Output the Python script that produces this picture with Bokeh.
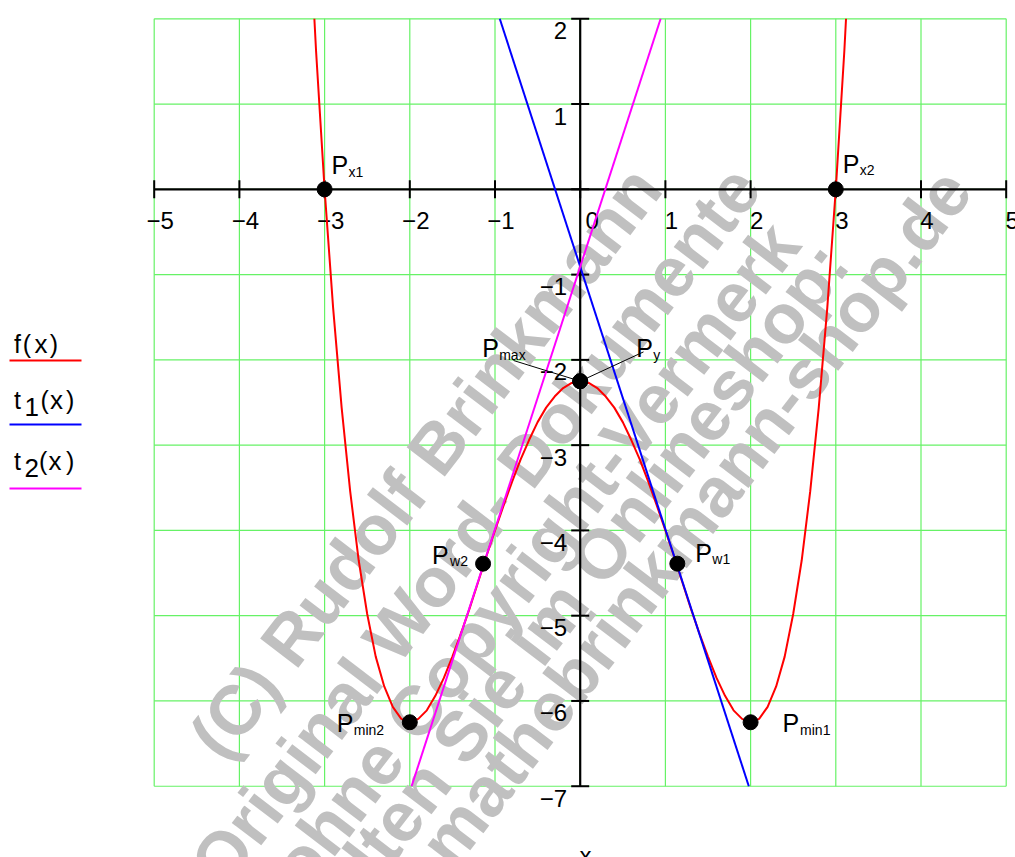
import math
from bokeh.plotting import figure
from bokeh.models import Range1d
from bokeh.core.properties import value
from bokeh.embed import file_html
from bokeh.resources import INLINE

# ---------------- data ----------------
f_x = [-3.12, -3.1, -3.0, -2.9, -2.8, -2.7, -2.6, -2.5, -2.4, -2.3, -2.2, -2.1, -2.0,
       -1.9, -1.8, -1.7, -1.6, -1.5, -1.4, -1.3, -1.2, -1.1, -1.0, -0.9, -0.8, -0.7,
       -0.6, -0.5, -0.4, -0.3, -0.2, -0.1, 0.0, 0.1, 0.2, 0.3, 0.4, 0.5, 0.6, 0.7, 0.8,
       0.9, 1.0, 1.1, 1.2, 1.3, 1.4, 1.5, 1.6, 1.7, 1.8, 1.9, 2.0, 2.1, 2.2, 2.3, 2.4,
       2.5, 2.6, 2.7, 2.8, 2.9, 3.0, 3.1, 3.12]
f_y = [2.00, 1.62, 0.00, -1.39, -2.56, -3.54, -4.35, -4.98, -5.48, -5.83, -6.07, -6.21, -6.25,
       -6.21, -6.11, -5.94, -5.73, -5.48, -5.21, -4.92, -4.61, -4.30, -4.00, -3.71, -3.43, -3.17,
       -2.94, -2.73, -2.56, -2.43, -2.33, -2.27, -2.25, -2.27, -2.33, -2.43, -2.56, -2.73, -2.94,
       -3.17, -3.43, -3.71, -4.00, -4.30, -4.61, -4.92, -5.21, -5.48, -5.73, -5.94, -6.11, -6.21,
       -6.25, -6.21, -6.07, -5.83, -5.48, -4.98, -4.35, -3.54, -2.56, -1.39, 0.00, 1.62, 2.00]

t1_x = [-0.944, 1.979]
t1_y = [2.0, -7.0]
t2_x = [-1.979, 0.944]
t2_y = [-7.0, 2.0]

pt_subs = ["x1", "x2", "max", "y", "w1", "w2", "min1", "min2"]
pt_x = [-3.0, 3.0, 0.0, 0.0, 1.14, -1.14, 2.0, -2.0]
pt_y = [0.0, 0.0, -2.25, -2.25, -4.39, -4.39, -6.25, -6.25]

x_ticks = [-5, -4, -3, -2, -1, 0, 1, 2, 3, 4, 5]
x_tick_labels = ["\u22125", "\u22124", "\u22123", "\u22122", "\u22121", "0", "1", "2", "3", "4", "5"]
y_ticks = [-7, -6, -5, -4, -3, -2, -1, 0, 1, 2]
y_label_ticks = [-7, -6, -5, -4, -3, -2, -1, 1, 2]
y_tick_labels = ["\u22127", "\u22126", "\u22125", "\u22124", "\u22123", "\u22122", "\u22121", "1", "2"]

legend_names = ["f", "t", "t"]
legend_subs = ["", "1", "2"]
legend_colors = ["#ff0000", "#0000ff", "#ff00ff"]
x_title = "x"

watermark_lines = ["(C) Rudolf Brinkmann",
                   "Original Word- Dokumente",
                   "ohne Copyright-Vermerk",
                   "erhalten Sie im Onlineshop:",
                   "mathebrinkmann-shop.de"]

# ---------------- layout ----------------
W, H = 1015, 857
PX, PY = 85.2, 85.27           # pixels per unit
FR_LEFT, FR_TOP = 153.7, 18.3  # canvas px of x=-5 and y=2
XMIN = -5 - FR_LEFT / PX
XMAX = XMIN + W / PX
YMAX = 2 + FR_TOP / PY
YMIN = YMAX - H / PY


def dx(sx):  # canvas x (px) -> data
    return XMIN + sx / PX


def dy(sy):  # canvas y (px, from top) -> data
    return YMAX - sy / PY


FONT = value("Liberation Sans")

p = figure(width=W, height=H, x_range=Range1d(XMIN, XMAX), y_range=Range1d(YMIN, YMAX),
           output_backend="svg", toolbar_location=None,
           x_axis_location=None, y_axis_location=None, min_border=0,
           outline_line_color=None, background_fill_color="white",
           border_fill_color="white")
p.xgrid.visible = False
p.ygrid.visible = False

xlo, xhi = x_ticks[0], x_ticks[-1]
ylo, yhi = y_ticks[0], y_ticks[-1]

# grid
GRID = "#66f266"
p.segment(x0=x_ticks, y0=[ylo] * len(x_ticks), x1=x_ticks, y1=[yhi] * len(x_ticks),
          line_color=GRID, line_width=1.2)
p.segment(x0=[xlo] * len(y_ticks), y0=y_ticks, x1=[xhi] * len(y_ticks), y1=y_ticks,
          line_color=GRID, line_width=1.2)

# watermark (baseline centres in canvas px)
wm_centers = [(425, 462), (475, 526), (535, 555), (551, 618), (695, 517)]
p.text(x=[dx(c[0]) for c in wm_centers], y=[dy(c[1]) for c in wm_centers],
       text=watermark_lines, angle=math.radians(52.5), text_font=FONT,
       text_font_style="bold", text_font_size="70px", text_color="#c0c0c0",
       text_align="center", text_baseline="alphabetic")

# axes through the origin
p.segment(x0=[xlo], y0=[0], x1=[xhi], y1=[0], line_color="black", line_width=2.2)
p.segment(x0=[0], y0=[ylo], x1=[0], y1=[yhi], line_color="black", line_width=2.2)
p.scatter(x=x_ticks, y=[0] * len(x_ticks), marker="dash", size=18, angle=math.pi / 2,
          line_color="black", line_width=2)
p.scatter(x=[0] * len(y_ticks), y=y_ticks, marker="dash", size=18,
          line_color="black", line_width=2)

# tick labels
p.text(x=x_ticks, y=[0] * len(x_ticks), text=x_tick_labels,
       x_offset=[12 if v == 0 else 6 for v in x_ticks], y_offset=31,
       text_font=FONT, text_font_size="24px", text_color="black",
       text_align="center", text_baseline="alphabetic")
p.text(x=[0] * len(y_label_ticks), y=y_label_ticks, text=y_tick_labels,
       x_offset=-13, y_offset=12, text_font=FONT, text_font_size="24px",
       text_color="black", text_align="right", text_baseline="alphabetic")

# curves
p.line(f_x, f_y, line_color=legend_colors[0], line_width=2)
p.line(t1_x, t1_y, line_color=legend_colors[1], line_width=2)
p.line(t2_x, t2_y, line_color=legend_colors[2], line_width=2)

# leader lines for P_max and P_y
imax = pt_subs.index("max")
iy = pt_subs.index("y")
lead_x0 = [pt_x[imax] - 66.7 / PX, pt_x[iy] + 63.3 / PX]
lead_y0 = [pt_y[imax] + 20.7 / PY, pt_y[iy] + 29.3 / PY]
p.segment(x0=lead_x0, y0=lead_y0, x1=[pt_x[imax], pt_x[iy]], y1=[pt_y[imax], pt_y[iy]],
          line_color="black", line_width=1)

# points
p.scatter(x=pt_x, y=pt_y, size=15, marker="circle", fill_color="black", line_color="black")

# point labels (pixel offsets from each point)
off_P = {"x1": (7, -24), "x2": (7, -25), "max": (-98, -33), "y": (56, -33),
         "w1": (18, -11), "w2": (-51, -9), "min1": (32, 1), "min2": (-73, 1)}
off_S = {"x1": (24, -17.5), "x2": (24, -19.5), "max": (-81, -26), "y": (73, -26),
         "w1": (35, -5), "w2": (-33, -3), "min1": (49.5, 7.5), "min2": (-56, 7.5)}
p.text(x=pt_x, y=pt_y, text=["P"] * len(pt_x),
       x_offset=[off_P[s][0] for s in pt_subs], y_offset=[off_P[s][1] for s in pt_subs],
       text_font=FONT, text_font_size="25px", text_color="black",
       text_align="left", text_baseline="alphabetic")
p.text(x=pt_x, y=pt_y, text=pt_subs,
       x_offset=[off_S[s][0] for s in pt_subs], y_offset=[off_S[s][1] for s in pt_subs],
       text_font=FONT, text_font_size="14px", text_color="black",
       text_align="left", text_baseline="alphabetic")

# legend (Mathcad style: name above a coloured line)
base_y = [343, 399, 460]
line_y = [360, 424, 488]
name_x, paren_x, xx, close_x = 13.5, [22.3, 40.0, 38.5], [34.0, 49.5, 48.0], [49.3, 65.5, 65.5]
p.segment(x0=[dx(9)] * 3, y0=[dy(v) for v in line_y], x1=[dx(81)] * 3,
          y1=[dy(v) for v in line_y], line_color=legend_colors, line_width=2.2)
p.text(x=[dx(name_x)] * 3, y=[dy(v) for v in base_y], text=legend_names,
       text_font=FONT, text_font_size="25px", text_color="black",
       text_align="left", text_baseline="alphabetic")
p.text(x=[dx(24.0)] * 2, y=[dy(v + 7) for v in base_y[1:]], text=legend_subs[1:],
       text_font=FONT, text_font_size="26px", text_color="black",
       text_align="left", text_baseline="alphabetic")
p.text(x=[dx(v) for v in paren_x], y=[dy(v) for v in base_y], text=["("] * 3,
       text_font=FONT, text_font_size="25px", text_color="black",
       text_align="left", text_baseline="alphabetic")
p.text(x=[dx(v) for v in xx], y=[dy(v) for v in base_y], text=["x"] * 3,
       text_font=FONT, text_font_size="26px", text_color="black",
       text_align="left", text_baseline="alphabetic")
p.text(x=[dx(v) for v in close_x], y=[dy(v) for v in base_y], text=[")"] * 3,
       text_font=FONT, text_font_size="25px", text_color="black",
       text_align="left", text_baseline="alphabetic")

# axis title
p.text(x=[dx(585)], y=[dy(855)], text=[x_title], text_font=FONT, text_font_size="24px",
       text_color="black", text_align="center", text_baseline="alphabetic")

open("out.html", "w").write(file_html(p, INLINE))
